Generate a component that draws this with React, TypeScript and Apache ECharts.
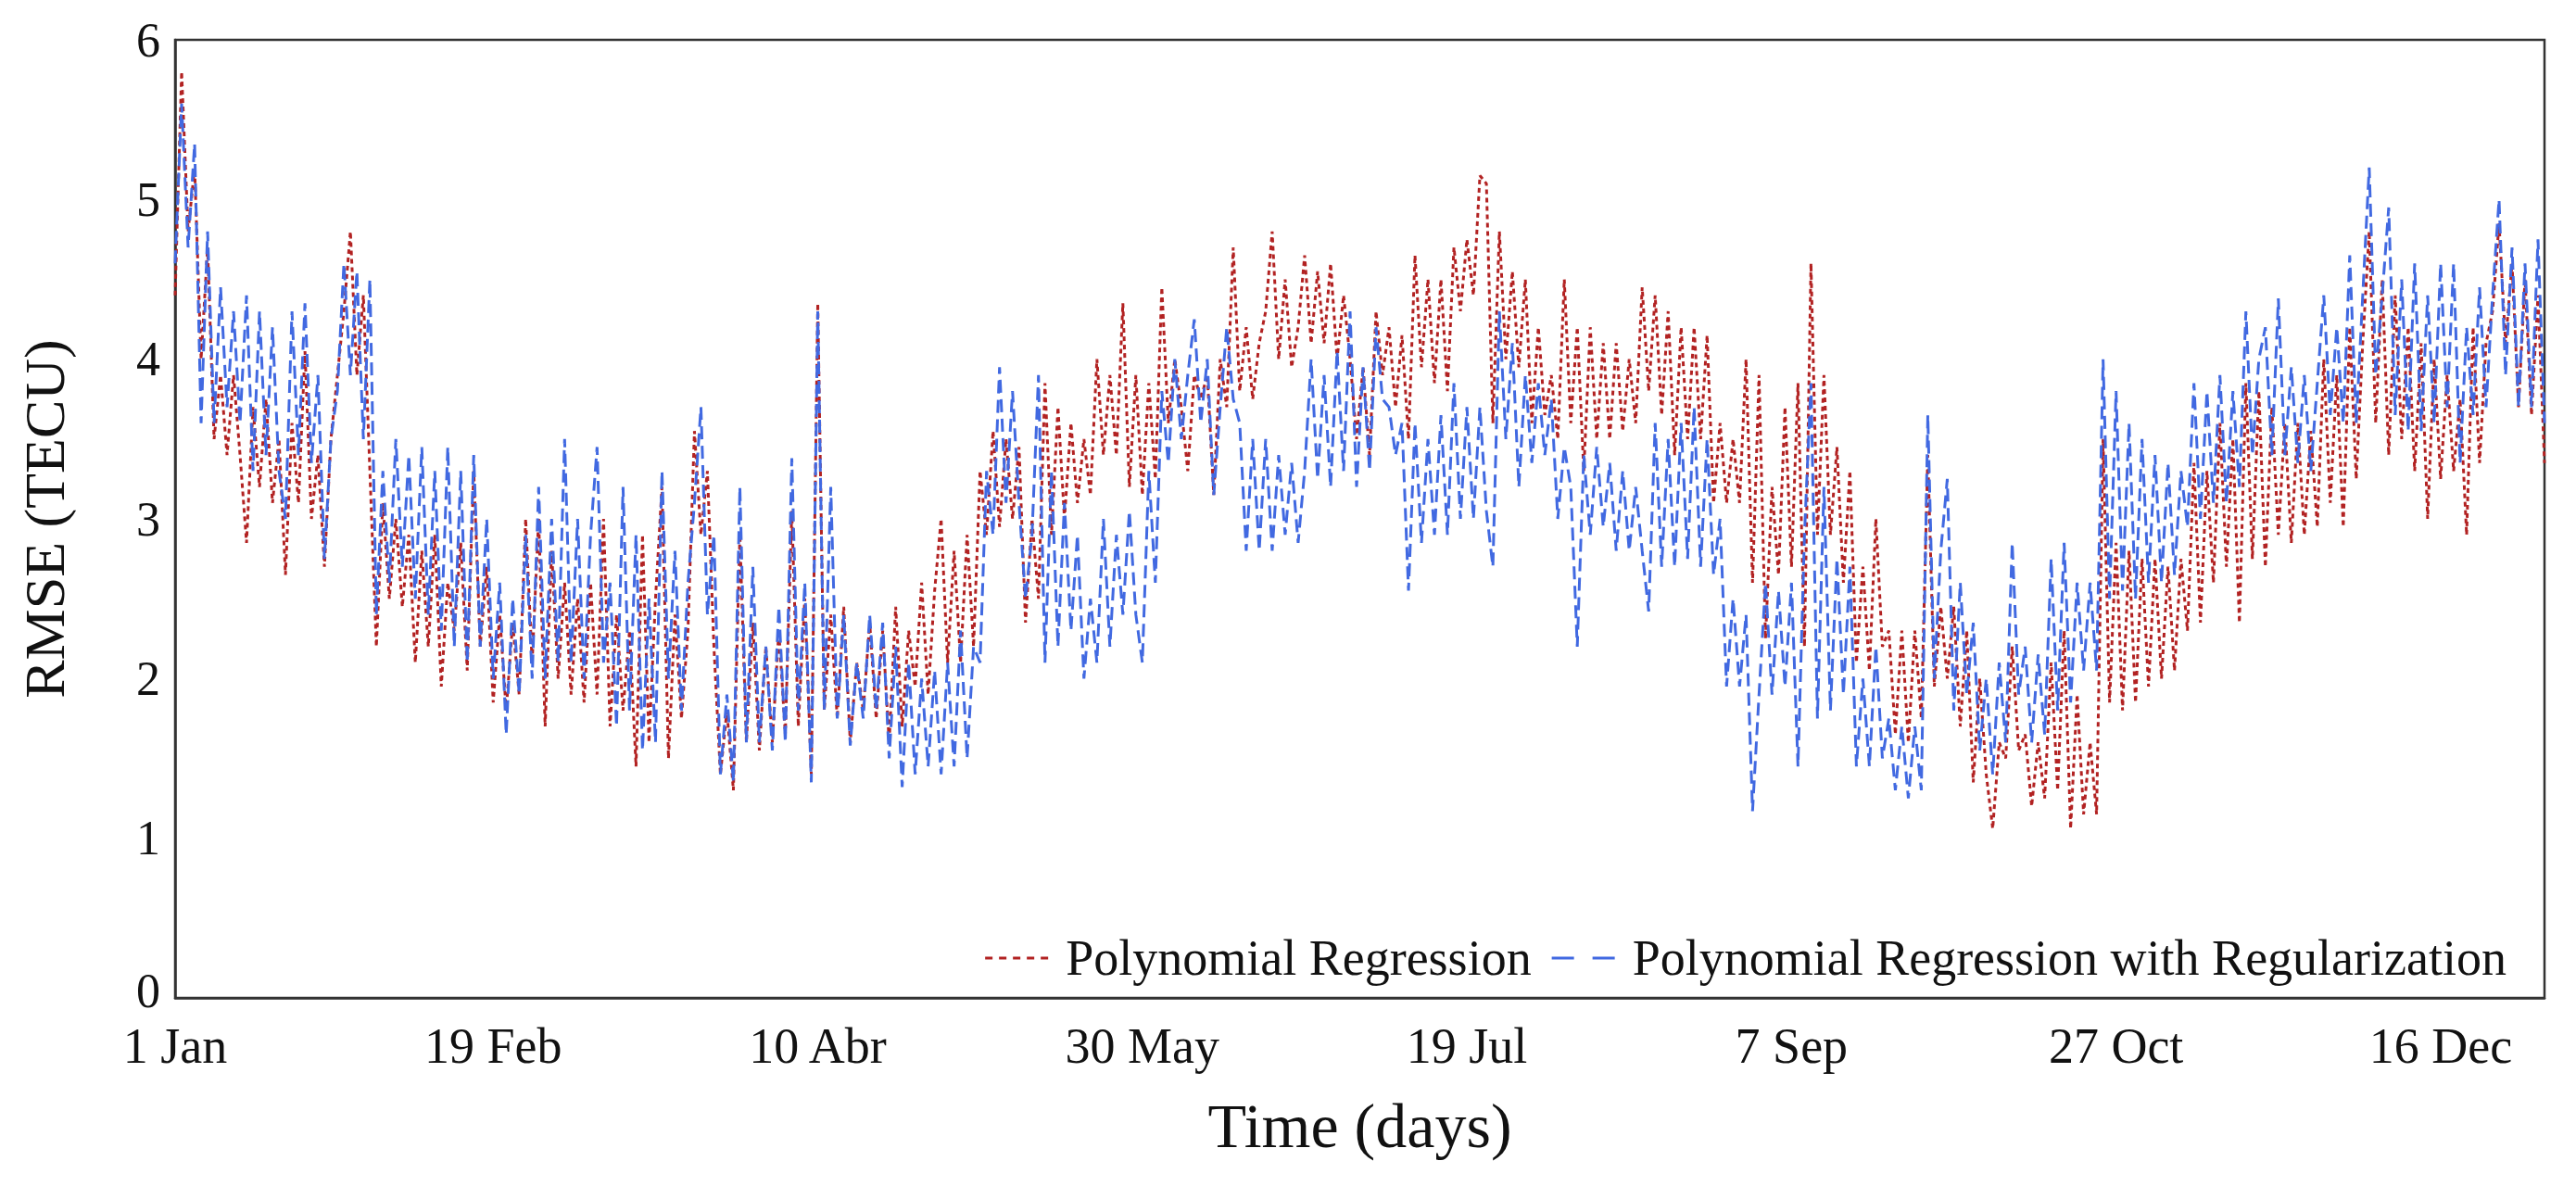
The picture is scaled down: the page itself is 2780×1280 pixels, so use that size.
import React, { useEffect, useRef } from 'react';
import * as echarts from 'echarts';

// x ticks (day of year) and their labels
const tickDays = [1, 50, 100, 150, 200, 250, 300, 350];
const tickLabels = ['1 Jan', '19 Feb', '10 Abr', '30 May', '19 Jul', '7 Sep', '27 Oct', '16 Dec'];
const yTicks = [0, 1, 2, 3, 4, 5, 6];

// daily RMSE (TECU), day 1 .. 366
const polyRmse = [
  4.4, 5.8, 4.8, 5.2, 4.0, 4.7, 3.5, 3.9, 3.4, 3.9,
  3.4, 2.85, 3.7, 3.2, 3.75, 3.1, 3.5, 2.65, 3.6, 3.1,
  4.05, 3.0, 3.4, 2.7, 3.5, 3.9, 4.3, 4.8, 3.9, 4.4,
  3.3, 2.2, 3.1, 2.5, 3.0, 2.45, 2.9, 2.1, 2.8, 2.2,
  2.9, 1.95, 2.6, 2.3, 2.85, 2.05, 3.3, 2.2, 2.7, 1.85,
  2.4, 1.8, 2.35, 1.9, 3.0, 2.1, 3.0, 1.7, 2.8, 2.0,
  2.6, 1.9, 2.5, 1.85, 2.6, 1.9, 3.0, 1.7, 2.4, 1.8,
  2.3, 1.45, 2.9, 1.6, 2.5, 3.2, 1.5, 2.4, 1.75, 2.3,
  3.55, 2.9, 3.3, 2.2, 1.4, 1.8, 1.3, 2.9, 1.6, 2.35,
  1.55, 2.2, 1.6, 2.3, 1.65, 3.05, 1.7, 2.5, 1.4, 4.35,
  1.8, 2.4, 1.75, 2.45, 1.6, 2.1, 1.8, 2.35, 1.75, 2.3,
  1.6, 2.45, 1.7, 2.3, 1.95, 2.6, 1.9, 2.55, 3.0, 2.1,
  2.8, 2.1, 2.9, 2.2, 3.3, 2.9, 3.55, 2.95, 3.5, 3.0,
  3.45, 2.35, 3.0, 2.5, 3.85, 2.9, 3.7, 3.0, 3.6, 3.1,
  3.5, 3.15, 4.0, 3.4, 3.9, 3.4, 4.35, 3.2, 3.9, 3.15,
  3.85, 3.25, 4.45, 3.6, 4.0, 3.7, 3.3, 3.9, 3.75, 3.9,
  3.15, 4.0, 3.7, 4.7, 3.8, 4.2, 3.75, 4.1, 4.3, 4.8,
  4.0, 4.5, 3.95, 4.2, 4.65, 4.1, 4.55, 4.1, 4.6, 4.0,
  4.4, 4.0, 3.5, 3.95, 3.4, 4.3, 3.9, 4.2, 3.7, 4.15,
  3.5, 4.65, 3.95, 4.5, 3.85, 4.5, 3.8, 4.7, 4.3, 4.75,
  4.4, 5.15, 5.1, 3.6, 4.8, 4.0, 4.55, 3.95, 4.5, 3.6,
  4.2, 3.65, 3.9, 3.5, 4.5, 3.6, 4.2, 3.3, 4.2, 3.5,
  4.1, 3.5, 4.1, 3.55, 4.0, 3.6, 4.45, 3.8, 4.4, 3.65,
  4.3, 3.4, 4.2, 3.5, 4.2, 3.5, 4.15, 3.1, 3.6, 3.1,
  3.5, 3.1, 4.0, 2.6, 3.9, 2.25, 3.2, 2.65, 3.7, 2.7,
  3.85, 2.2, 4.6, 2.9, 3.9, 2.9, 3.45, 2.6, 3.3, 2.1,
  2.7, 2.05, 3.0, 2.2, 2.3, 1.65, 2.3, 1.6, 2.3, 1.75,
  3.4, 1.95, 2.45, 2.0, 2.45, 1.7, 2.3, 1.35, 2.0, 1.4,
  1.06, 1.6, 1.5, 2.2, 1.55, 1.65, 1.2, 1.6, 1.25, 2.1,
  1.3, 2.3, 1.06, 1.9, 1.15, 1.6, 1.15, 3.5, 1.85, 2.85,
  1.8, 2.8, 1.85, 2.75, 1.95, 2.75, 2.0, 2.7, 2.05, 2.75,
  2.3, 3.35, 2.35, 3.3, 2.6, 3.6, 2.7, 3.5, 2.35, 3.85,
  2.75, 3.8, 2.7, 3.7, 2.9, 3.6, 2.85, 3.6, 2.9, 3.55,
  2.95, 4.0, 3.1, 3.9, 2.95, 4.2, 3.25, 4.1, 4.8, 3.6,
  4.5, 3.4, 4.4, 3.5, 4.2, 3.3, 4.1, 3.0, 4.0, 3.25,
  3.9, 3.3, 3.75, 2.9, 4.2, 3.35, 4.1, 4.3, 4.85, 4.1,
  4.6, 3.7, 4.5, 3.65, 4.4, 3.35,
];

const regRmse = [
  4.6, 5.6, 4.7, 5.35, 3.6, 4.8, 3.6, 4.45, 3.7, 4.3,
  3.6, 4.4, 3.3, 4.3, 3.4, 4.2, 3.3, 3.0, 4.3, 3.4,
  4.35, 3.35, 3.9, 2.75, 3.5, 3.8, 4.6, 3.9, 4.55, 3.5,
  4.5, 2.4, 3.3, 2.6, 3.5, 2.7, 3.4, 2.5, 3.45, 2.4,
  3.3, 2.3, 3.45, 2.2, 3.3, 2.1, 3.4, 2.2, 3.0, 2.0,
  2.6, 1.65, 2.5, 1.9, 2.9, 2.0, 3.2, 2.0, 3.0, 2.1,
  3.5, 2.1, 3.0, 2.0, 2.9, 3.45, 2.1, 2.6, 1.7, 3.2,
  1.8, 2.9, 1.55, 2.5, 1.6, 3.3, 2.0, 2.8, 1.8, 2.6,
  3.1, 3.7, 2.4, 2.9, 1.4, 1.9, 1.35, 3.2, 1.6, 2.7,
  1.6, 2.2, 1.55, 2.45, 1.6, 3.38, 1.8, 2.6, 1.35, 4.3,
  1.8, 3.2, 1.75, 2.4, 1.58, 2.1, 1.75, 2.4, 1.8, 2.35,
  1.5, 2.2, 1.32, 2.1, 1.4, 2.0, 1.45, 2.05, 1.4, 2.1,
  1.45, 2.3, 1.5, 2.2, 2.1, 3.3, 2.9, 3.95, 3.1, 3.8,
  3.1, 2.5, 2.9, 3.9, 2.1, 3.3, 2.2, 3.1, 2.3, 2.9,
  2.0, 2.5, 2.1, 3.0, 2.2, 2.9, 2.4, 3.05, 2.4, 2.1,
  3.3, 2.6, 3.8, 3.35, 4.0, 3.5, 3.9, 4.25, 3.6, 4.0,
  3.15, 3.7, 4.2, 3.75, 3.6, 2.8, 3.5, 2.8, 3.5, 2.8,
  3.4, 2.9, 3.35, 2.85, 3.3, 4.0, 3.25, 3.9, 3.2, 4.05,
  3.3, 4.3, 3.2, 3.95, 3.3, 4.2, 3.75, 3.7, 3.4, 3.6,
  2.55, 3.6, 2.85, 3.5, 2.9, 3.65, 2.9, 3.85, 3.0, 3.7,
  3.0, 3.7, 3.05, 2.7, 4.3, 3.5, 4.1, 3.2, 3.9, 3.35,
  3.85, 3.4, 3.75, 3.0, 3.45, 3.2, 2.2, 3.4, 2.9, 3.45,
  2.95, 3.35, 2.8, 3.3, 2.8, 3.2, 2.8, 2.42, 3.6, 2.7,
  3.5, 2.7, 3.6, 2.75, 3.7, 2.7, 3.5, 2.65, 3.0, 1.95,
  2.5, 1.95, 2.4, 1.17, 1.9, 2.6, 1.9, 2.55, 1.95, 2.6,
  1.45, 2.9, 3.85, 1.75, 3.2, 1.8, 2.75, 1.9, 2.7, 1.45,
  2.0, 1.45, 2.2, 1.5, 1.75, 1.3, 1.7, 1.25, 1.7, 1.3,
  3.65, 2.0, 2.8, 3.25, 1.8, 2.6, 1.9, 2.35, 1.55, 2.0,
  1.4, 2.1, 1.6, 2.85, 1.9, 2.2, 1.6, 2.15, 1.65, 2.75,
  1.8, 2.85, 1.85, 2.6, 2.05, 2.6, 2.05, 4.0, 2.5, 3.8,
  2.55, 3.6, 2.5, 3.5, 2.6, 3.4, 2.6, 3.35, 2.65, 3.3,
  2.95, 3.85, 3.0, 3.8, 3.1, 3.9, 3.1, 3.8, 3.2, 4.3,
  3.4, 4.0, 4.2, 3.4, 4.38, 3.4, 3.95, 3.35, 3.9, 3.3,
  3.85, 4.4, 3.65, 4.2, 3.6, 4.65, 3.6, 4.4, 5.2, 3.9,
  4.4, 4.95, 3.65, 4.5, 3.55, 4.6, 3.55, 4.4, 3.6, 4.6,
  3.7, 4.6, 3.35, 4.2, 3.65, 4.45, 3.7, 4.4, 5.0, 3.9,
  4.7, 3.7, 4.6, 3.7, 4.75, 3.6,
];

const FONT = '"Liberation Serif", "DejaVu Serif", serif';
const RED = '#b22222';
const BLUE = '#4169e1';

// legend glyphs: five short dashes (dotted) and two long dashes (dashed)
const dottedIcon =
  'path://M0,0h8v3h-8z M15,0h8v3h-8z M30,0h8v3h-8z M45,0h8v3h-8z M60,0h8v3h-8z';
const dashedIcon = 'path://M0,0h24v3h-24z M44,0h24v3h-24z';

const RmseChart: React.FC = () => {
  const chartRef = useRef<HTMLDivElement | null>(null);

  useEffect(() => {
    document.body.style.margin = '0';
    if (!chartRef.current) return;
    const chart = echarts.init(chartRef.current, undefined, { renderer: 'svg' });

    const toPoints = (vals: number[]) => vals.map((v, i) => [i + 1, v]);

    chart.setOption({
      animation: false,
      backgroundColor: '#fff',
      textStyle: { fontFamily: FONT },
      grid: {
        left: 189,
        right: 34,
        top: 43,
        bottom: 203,
        show: true,
        borderColor: '#333',
        borderWidth: 2.5,
      },
      legend: {
        right: 70,
        top: 1002,
        itemWidth: 68,
        itemHeight: 3,
        itemGap: 22,
        itemStyle: { borderWidth: 0 },
        textStyle: {
          fontFamily: FONT,
          fontSize: 54,
          color: '#111',
          padding: [0, 0, 0, 14],
        },
        data: [
          { name: 'Polynomial Regression', icon: dottedIcon },
          { name: 'Polynomial Regression with Regularization', icon: dashedIcon },
        ],
      },
      xAxis: {
        type: 'value',
        min: 1,
        max: 366,
        name: 'Time (days)',
        nameLocation: 'middle',
        nameGap: 104,
        nameTextStyle: { fontFamily: FONT, fontSize: 68, color: '#111' },
        axisLine: { show: true, lineStyle: { color: '#333', width: 2.5 } },
        axisTick: { show: false },
        splitLine: { show: false },
        axisLabel: {
          customValues: tickDays,
          showMinLabel: true,
          margin: 28,
          lineHeight: 48,
          fontFamily: FONT,
          fontSize: 54,
          color: '#111',
          formatter: (v: number) => {
            const k = tickDays.indexOf(v);
            return k >= 0 ? tickLabels[k] : '';
          },
        },
      },
      yAxis: {
        type: 'value',
        min: yTicks[0],
        max: yTicks[yTicks.length - 1],
        interval: 1,
        name: 'RMSE (TECU)',
        nameLocation: 'middle',
        nameGap: 110,
        nameTextStyle: { fontFamily: FONT, fontSize: 62, color: '#111' },
        axisLine: { show: true, lineStyle: { color: '#333', width: 2.5 } },
        axisTick: { show: false },
        splitLine: { show: false },
        axisLabel: {
          margin: 16,
          lineHeight: 40,
          fontFamily: FONT,
          fontSize: 52,
          color: '#111',
          // the zero sits just above "1 Jan", lift it a little
          formatter: (v: number) => (v === 0 ? '{lo|0}' : String(v)),
          rich: {
            lo: { fontFamily: FONT, fontSize: 52, color: '#111', padding: [0, 0, 16, 0] },
          },
        },
      },
      series: [
        {
          name: 'Polynomial Regression',
          type: 'line',
          data: toPoints(polyRmse),
          showSymbol: false,
          symbol: 'none',
          color: RED,
          lineStyle: { color: RED, width: 3, type: [5, 4] },
        },
        {
          name: 'Polynomial Regression with Regularization',
          type: 'line',
          data: toPoints(regRmse),
          showSymbol: false,
          symbol: 'none',
          color: BLUE,
          lineStyle: { color: BLUE, width: 3, type: [14, 7] },
        },
      ],
    });

    return () => {
      chart.dispose();
    };
  }, []);

  return <div ref={chartRef} style={{ width: '2780px', height: '1280px' }} />;
};

export default function App() {
  return <RmseChart />;
}
